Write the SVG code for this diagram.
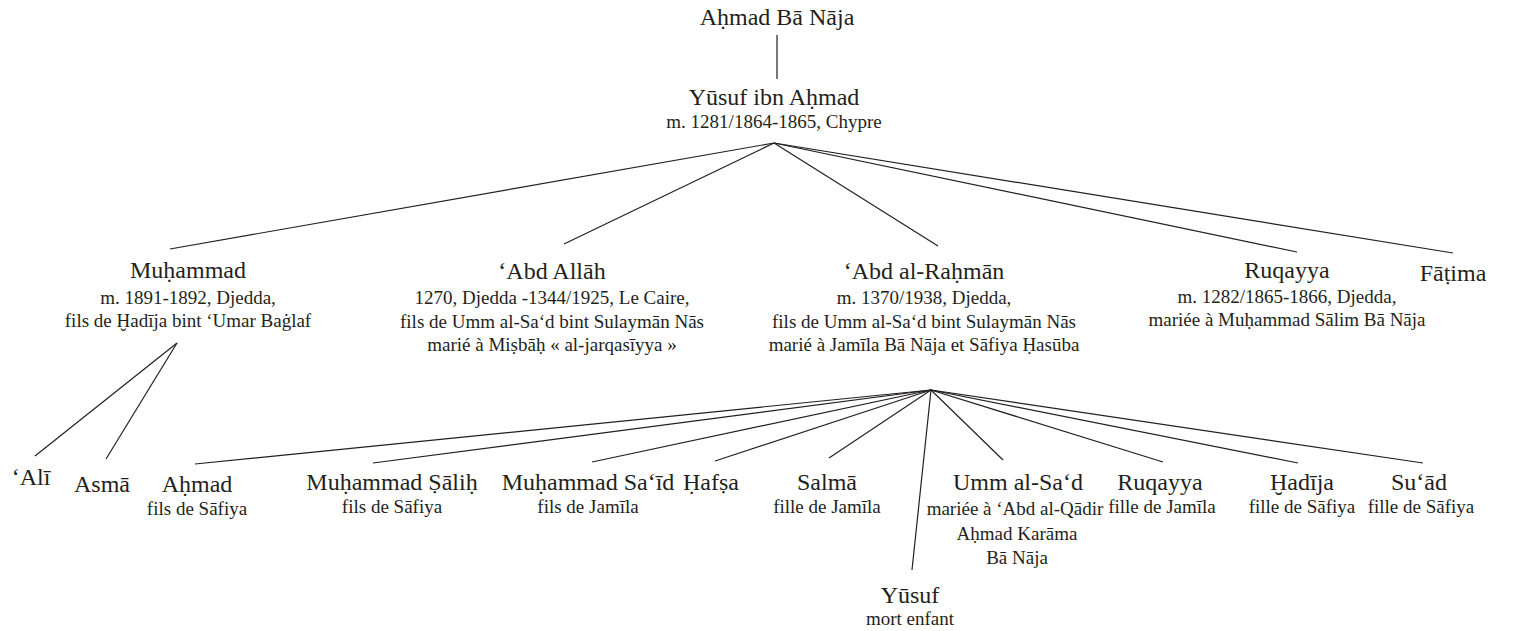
<svg xmlns="http://www.w3.org/2000/svg" width="1518" height="631" viewBox="0 0 1518 631">
<style>
text{font-family:"Liberation Serif","Times New Roman",serif;fill:#231f20;text-anchor:middle}
.n{font-size:24px}
.s{font-size:19px}
#connectors line{stroke:#231f20;stroke-width:1.2}
</style>
<rect width="1518" height="631" fill="#ffffff"/>
<g id="connectors">
<line x1="777" y1="35" x2="777" y2="79"/>
<line x1="774" y1="143" x2="170" y2="249"/>
<line x1="774" y1="143" x2="564" y2="244"/>
<line x1="774" y1="143" x2="938" y2="246"/>
<line x1="774" y1="143" x2="1297" y2="252"/>
<line x1="774" y1="143" x2="1453" y2="253"/>
<line x1="177" y1="343" x2="35" y2="456"/>
<line x1="177" y1="343" x2="106" y2="459"/>
<line x1="931" y1="390" x2="195" y2="464"/>
<line x1="931" y1="390" x2="373" y2="463"/>
<line x1="931" y1="390" x2="592" y2="462"/>
<line x1="931" y1="390" x2="715" y2="461"/>
<line x1="931" y1="390" x2="829" y2="458"/>
<line x1="931" y1="390" x2="912" y2="570"/>
<line x1="931" y1="390" x2="1003" y2="460"/>
<line x1="931" y1="390" x2="1163" y2="462"/>
<line x1="931" y1="390" x2="1298" y2="463"/>
<line x1="931" y1="390" x2="1423" y2="463"/>
</g>
<g id="n-ahmad-ba-naja"><text class="n" x="777" y="25">Aḥmad Bā Nāja</text></g>
<g id="n-yusuf-ibn-ahmad"><text class="n" x="774" y="105">Yūsuf ibn Aḥmad</text><text class="s" x="774" y="128">m. 1281/1864-1865, Chypre</text></g>
<g id="n-muhammad"><text class="n" x="188" y="278">Muḥammad</text><text class="s" x="188" y="304">m. 1891-1892, Djedda,</text><text class="s" x="188" y="327">fils de Ḫadīja bint ‘Umar Baġlaf</text></g>
<g id="n-abd-allah"><text class="n" x="552" y="279">‘Abd Allāh</text><text class="s" x="552" y="304">1270, Djedda -1344/1925, Le Caire,</text><text class="s" x="552" y="328">fils de Umm al-Sa‘d bint Sulaymān Nās</text><text class="s" x="552" y="351">marié à Miṣbāḥ « al-jarqasīyya »</text></g>
<g id="n-abd-al-rahman"><text class="n" x="924" y="279">‘Abd al-Raḥmān</text><text class="s" x="924" y="304">m. 1370/1938, Djedda,</text><text class="s" x="924" y="328">fils de Umm al-Sa‘d bint Sulaymān Nās</text><text class="s" x="924" y="351">marié à Jamīla Bā Nāja et Sāfiya Ḥasūba</text></g>
<g id="n-ruqayya"><text class="n" x="1287" y="278">Ruqayya</text><text class="s" x="1287" y="303">m. 1282/1865-1866, Djedda,</text><text class="s" x="1287" y="326">mariée à Muḥammad Sālim Bā Nāja</text></g>
<g id="n-fatima"><text class="n" x="1453" y="281">Fāṭima</text></g>
<g id="n-ali"><text class="n" x="31" y="485">‘Alī</text></g>
<g id="n-asma"><text class="n" x="102" y="492">Asmā</text></g>
<g id="n-ahmad"><text class="n" x="197" y="492">Aḥmad</text><text class="s" x="197" y="515">fils de Sāfiya</text></g>
<g id="n-muhammad-salih"><text class="n" x="392" y="490">Muḥammad Ṣāliḥ</text><text class="s" x="392" y="513">fils de Sāfiya</text></g>
<g id="n-muhammad-said"><text class="n" x="588" y="490">Muḥammad Sa‘īd</text><text class="s" x="588" y="513">fils de Jamīla</text></g>
<g id="n-hafsa"><text class="n" x="711" y="490">Ḥafṣa</text></g>
<g id="n-salma"><text class="n" x="827" y="490">Salmā</text><text class="s" x="827" y="513">fille de Jamīla</text></g>
<g id="n-yusuf"><text class="n" x="910" y="603">Yūsuf</text><text class="s" x="910" y="625">mort enfant</text></g>
<g id="n-umm-al-sad"><text class="n" x="1018" y="490">Umm al-Sa‘d</text><text class="s" x="1015" y="515">mariée à ‘Abd al-Qādir</text><text class="s" x="1017" y="540">Aḥmad Karāma</text><text class="s" x="1017" y="564">Bā Nāja</text></g>
<g id="n-ruqayya-2"><text class="n" x="1160" y="490">Ruqayya</text><text class="s" x="1162" y="513">fille de Jamīla</text></g>
<g id="n-hadija"><text class="n" x="1302" y="490">Ḫadīja</text><text class="s" x="1302" y="513">fille de Sāfiya</text></g>
<g id="n-suad"><text class="n" x="1419" y="490">Su‘ād</text><text class="s" x="1421" y="513">fille de Sāfiya</text></g>
</svg>
